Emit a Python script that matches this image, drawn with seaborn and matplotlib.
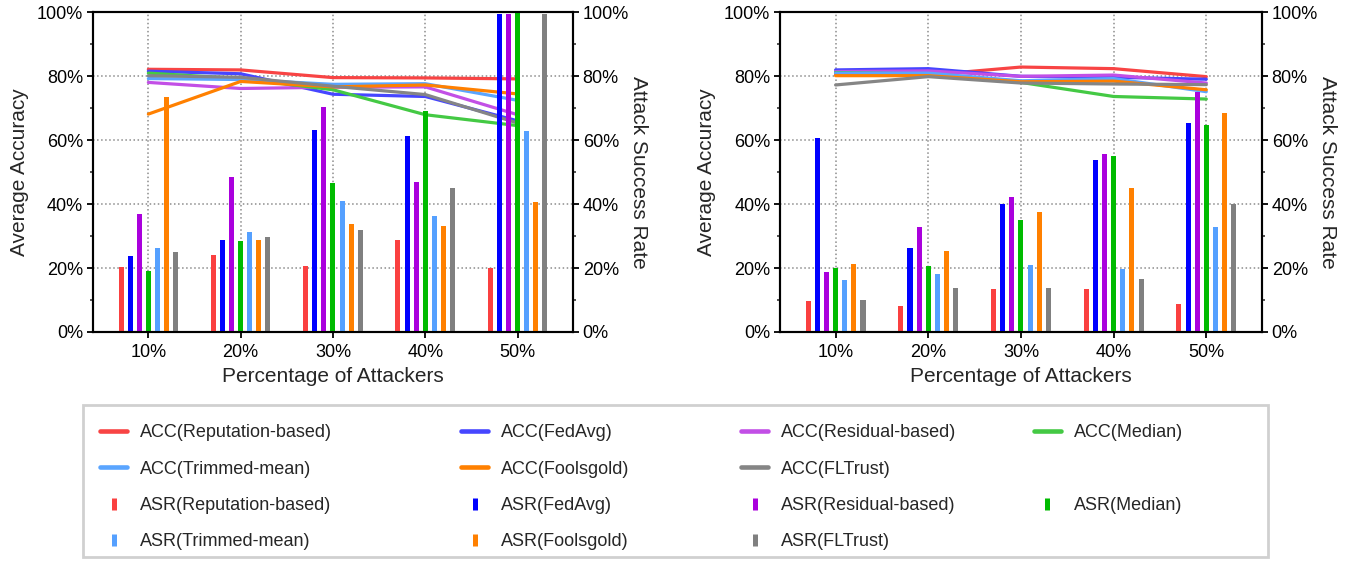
import pandas as pd
import matplotlib.pyplot as plt
import seaborn as sns
from matplotlib.lines import Line2D
from matplotlib.patches import Rectangle
from matplotlib.ticker import PercentFormatter, MultipleLocator

sns.set_theme(style="white")
plt.rcParams["font.family"] = ["Liberation Sans", "DejaVu Sans"]

attackers = ["10%", "20%", "30%", "40%", "50%"]
methods = ["Reputation-based", "FedAvg", "Residual-based", "Median",
           "Trimmed-mean", "Foolsgold", "FLTrust"]
bar_colors = ["#fa4040", "#0000ff", "#aa00dd", "#00bb00", "#55a0ff", "#ff8000", "#808080"]
line_colors = ["#f84444", "#4646ff", "#c24fe6", "#44c944", "#5aa5ff", "#ff8000", "#858585"]

# left panel: accuracy (lines) and attack success rate (bars), in %
acc_left = {
    "Reputation-based": [82.1, 81.9, 79.5, 79.4, 79.1],
    "FedAvg": [81.5, 80.7, 74.3, 73.6, 66.0],
    "Residual-based": [78.0, 76.1, 76.5, 76.6, 67.9],
    "Median": [80.9, 79.2, 75.7, 67.9, 64.5],
    "Trimmed-mean": [79.2, 78.9, 77.4, 77.6, 72.4],
    "Foolsgold": [68.1, 78.3, 76.6, 77.2, 74.4],
    "FLTrust": [80.1, 79.6, 76.8, 74.2, 65.3],
}
asr_left = {
    "Reputation-based": [20.4, 24.2, 20.7, 28.9, 20.1],
    "FedAvg": [23.9, 28.9, 63.2, 61.4, 99.5],
    "Residual-based": [37.0, 48.5, 70.4, 47.0, 99.5],
    "Median": [19.2, 28.5, 46.7, 69.2, 100.0],
    "Trimmed-mean": [26.4, 31.4, 41.0, 36.4, 62.9],
    "Foolsgold": [73.5, 28.9, 33.9, 33.2, 40.7],
    "FLTrust": [25.1, 29.8, 32.0, 45.1, 99.5],
}

# right panel
acc_right = {
    "Reputation-based": [80.6, 80.3, 82.8, 82.3, 79.8],
    "FedAvg": [81.9, 82.3, 79.9, 79.6, 79.0],
    "Residual-based": [81.4, 81.6, 79.9, 80.3, 77.8],
    "Median": [81.1, 80.6, 78.0, 73.6, 72.8],
    "Trimmed-mean": [80.9, 80.9, 78.5, 79.2, 75.1],
    "Foolsgold": [80.1, 80.1, 78.2, 78.4, 75.7],
    "FLTrust": [77.2, 79.8, 77.8, 77.5, 77.3],
}
asr_right = {
    "Reputation-based": [9.6, 8.0, 13.3, 13.3, 8.6],
    "FedAvg": [60.6, 26.1, 40.1, 53.8, 65.3],
    "Residual-based": [18.6, 32.9, 42.3, 55.7, 75.0],
    "Median": [20.1, 20.5, 35.1, 55.0, 64.7],
    "Trimmed-mean": [16.1, 18.0, 20.8, 19.8, 32.9],
    "Foolsgold": [21.1, 25.4, 37.6, 45.1, 68.4],
    "FLTrust": [9.9, 13.9, 13.9, 16.7, 40.1],
}


def to_long(acc, asr):
    rows = []
    for m in methods:
        for a, v, s in zip(attackers, acc[m], asr[m]):
            rows.append({"attackers": a, "method": m, "acc": v, "asr": s})
    return pd.DataFrame(rows)


def draw(ax, df):
    ax2 = ax.twinx()
    sns.pointplot(data=df, x="attackers", y="acc", hue="method", hue_order=methods,
                  palette=line_colors, markers="", errorbar=None, linewidth=2.3,
                  legend=False, ax=ax)
    sns.barplot(data=df, x="attackers", y="asr", hue="method", hue_order=methods,
                palette=bar_colors, errorbar=None, width=0.69, gap=0.45, saturation=1,
                linewidth=0, legend=False, ax=ax2)

    for a in (ax, ax2):
        a.set_ylim(0, 100)
        a.yaxis.set_major_locator(MultipleLocator(20))
        a.yaxis.set_minor_locator(MultipleLocator(10))
        a.yaxis.set_major_formatter(PercentFormatter(100, decimals=0))
        a.tick_params(axis="both", which="major", direction="out", length=4,
                      width=1.3, labelsize=13, pad=3, colors="black")
        a.tick_params(axis="y", which="minor", direction="out", length=2.5, width=1.1)
        for s in a.spines.values():
            s.set_linewidth(1.5)
            s.set_color("black")
    ax.set_xlim(-0.6, 4.6)
    ax.tick_params(axis="x", bottom=True, pad=5)
    ax.grid(True, linestyle=":", color="#8c8c8c", linewidth=1.1)
    ax.set_axisbelow(True)
    ax.set_xlabel("Percentage of Attackers", fontsize=15, labelpad=4)
    ax.set_ylabel("Average Accuracy", fontsize=15, labelpad=6)
    ax2.set_ylabel("Attack Success Rate", fontsize=15, rotation=270, labelpad=14)
    ax2.set_xlabel("")


fig = plt.figure(figsize=(13.61, 5.61), dpi=100)
ax_l = fig.add_axes([0.0683, 0.4082, 0.3527, 0.5704])
ax_r = fig.add_axes([0.5731, 0.4082, 0.3541, 0.5704])

draw(ax_l, to_long(acc_left, asr_left))
draw(ax_r, to_long(acc_right, asr_right))

# legend: one frame, four columns (ACC rows on top, ASR rows below)
blank = Line2D([], [], alpha=0)
acc_h = [Line2D([], [], color=c, lw=3.3) for c in line_colors]
asr_h = [Line2D([], [], color=c, marker="|", ls="none", ms=8, mew=3.6) for c in bar_colors]
col_x = [0.0735, 0.3387, 0.5445, 0.7597]
for c, x in enumerate(col_x):
    idx = [c, c + 4]
    hs, ls = [], []
    for block, prefix in ((acc_h, "ACC"), (asr_h, "ASR")):
        for i in idx:
            if i < len(methods):
                hs.append(block[i])
                ls.append("%s(%s)" % (prefix, methods[i]))
            else:
                hs.append(blank)
                ls.append("")
    leg = fig.legend(hs, ls, loc="upper left", bbox_to_anchor=(x, 0.2434),
                     borderaxespad=0, borderpad=0, fontsize=13, handlelength=1.5,
                     handletextpad=0.7, labelspacing=1.07, frameon=False)

fig.add_artist(Rectangle((83 / 1361, 1 - 557 / 561), 1185 / 1361, 152 / 561,
                         transform=fig.transFigure, fill=False,
                         edgecolor="#d0d0d0", linewidth=2))

plt.savefig("out.png", dpi=100)
